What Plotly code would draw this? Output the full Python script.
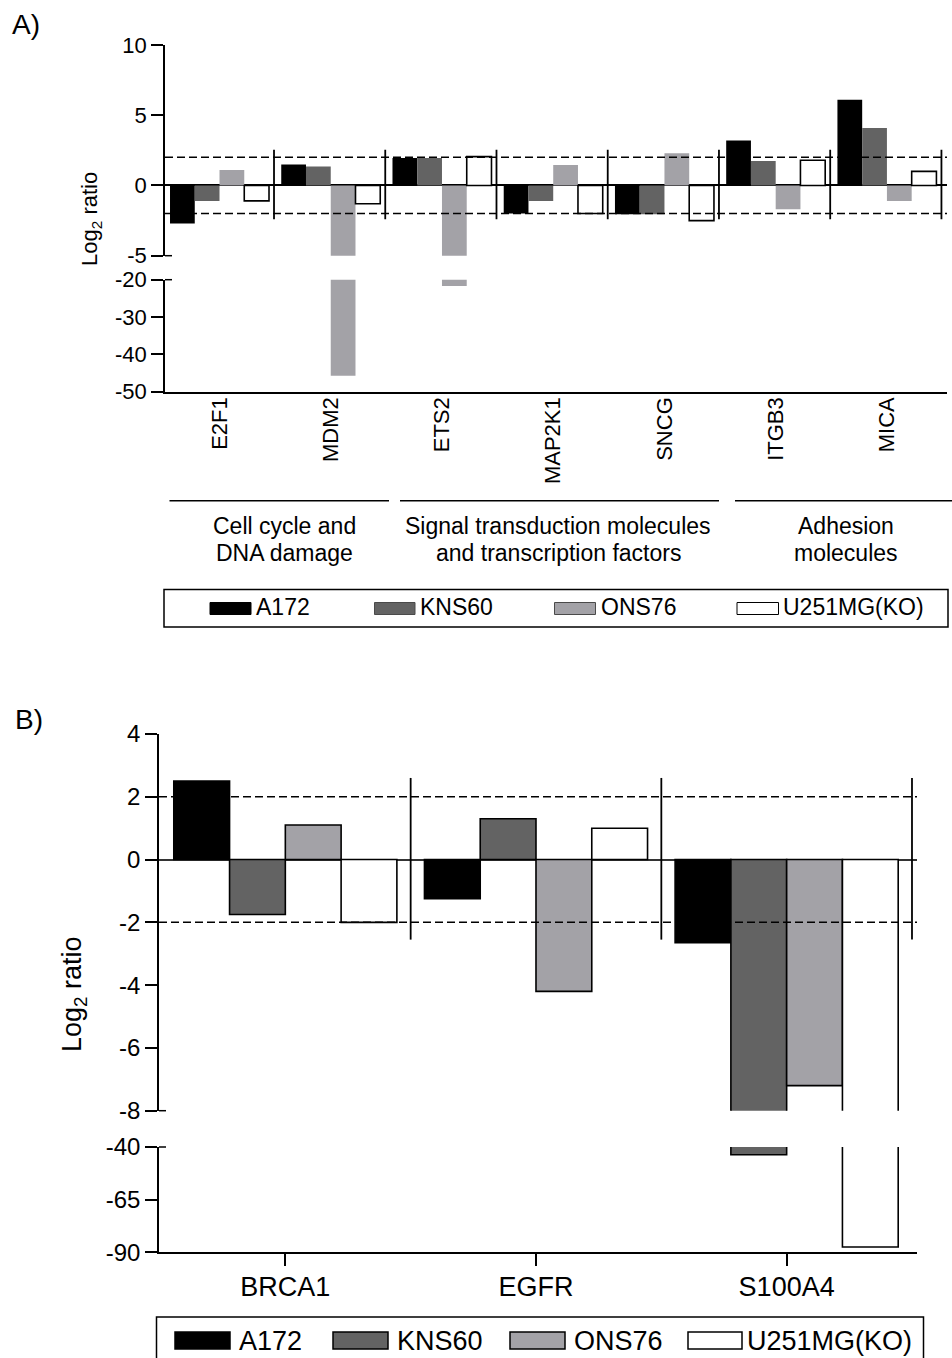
import plotly.graph_objects as go

W, H = 952, 1358
FONT = "Liberation Sans, Arial, sans-serif"

# Panel A: log2 ratios per gene (upper segment -5..10, lower segment -50..-20)
genes_a = ["E2F1", "MDM2", "ETS2", "MAP2K1", "SNCG", "ITGB3", "MICA"]
a172_a = [-2.7, 1.5, 1.95, -2.0, -2.05, 3.2, 6.1]
kns60_a = [-1.1, 1.35, 1.95, -1.1, -2.05, 1.75, 4.1]
ons76_a = [1.1, -45.7, -21.7, 1.45, 2.3, -1.7, -1.1]
u251_a = [-1.1, -1.3, 2.05, -2.0, -2.5, 1.8, 1.0]

# Panel B: log2 ratios per gene (upper segment -8..4, lower segment -90..-40)
genes_b = ["BRCA1", "EGFR", "S100A4"]
a172_b = [2.5, -1.25, -2.65]
kns60_b = [-1.75, 1.3, -43.7]
ons76_b = [1.1, -4.2, -7.2]
u251_b = [-2.0, 1.0, -87.5]

cell_lines = ["A172", "KNS60", "ONS76", "U251MG(KO)"]
fills = ["#000000", "#636363", "#a3a2a7", "#ffffff"]

gene_groups_a = [
    ("Cell cycle and", "DNA damage"),
    ("Signal transduction molecules", "and transcription factors"),
    ("Adhesion", "molecules"),
]

ticks_a_upper = [10, 5, 0, -5]
ticks_a_lower = [-20, -30, -40, -50]
ticks_b_upper = [4, 2, 0, -2, -4, -6, -8]
ticks_b_lower = [-40, -65, -90]


def px(x):
    return x / W


def py(y):
    return 1 - y / H


def labels(vals):
    # plain hyphen-minus for negative tick labels
    return [str(v) for v in vals]


series_a = [a172_a, kns60_a, ons76_a, u251_a]
series_b = [a172_b, kns60_b, ons76_b, u251_b]

fig = go.Figure()

# Panel A bars: same data on both axis segments (clipped to each range)
for yref in ["y", "y2"]:
    for name, vals, col in zip(cell_lines, series_a, fills):
        outlined = name == "U251MG(KO)"
        fig.add_trace(go.Bar(
            x=genes_a, y=vals, name=name, xaxis="x", yaxis=yref,
            marker=dict(color=col,
                        line=dict(color="#000000", width=1.6 if outlined else 0)),
            showlegend=False, hoverinfo="skip",
        ))

# Panel B bars, all outlined
for yref in ["y3", "y4"]:
    for name, vals, col in zip(cell_lines, series_b, fills):
        fig.add_trace(go.Bar(
            x=genes_b, y=vals, name=name, xaxis="x2", yaxis=yref,
            marker=dict(color=col, line=dict(color="#000000", width=1.6)),
            showlegend=False, hoverinfo="skip",
        ))

yax_common = dict(
    showline=True, linecolor="#000000", linewidth=1.5,
    ticks="outside", ticklen=12, tickwidth=1.5, tickcolor="#000000",
    showgrid=False, automargin=False, fixedrange=True,
)

fig.update_layout(
    width=W, height=H,
    margin=dict(l=0, r=0, t=0, b=0),
    paper_bgcolor="white", plot_bgcolor="white",
    barmode="group", bargap=0.11, bargroupgap=0,
    font=dict(family=FONT, color="#000000"),
    xaxis=dict(
        domain=[px(165), px(947)], anchor="y2",
        type="category", categoryorder="array", categoryarray=genes_a,
        range=[-0.49, 6.54],
        showline=True, linecolor="#000000", linewidth=1.5,
        ticks="", tickangle=-90, tickfont=dict(size=22),
        ticklabelstandoff=-5,
        showgrid=False, automargin=False, fixedrange=True,
    ),
    yaxis=dict(
        domain=[py(255.7), py(45)], anchor="x", range=[-5, 10],
        tickvals=ticks_a_upper, ticktext=labels(ticks_a_upper),
        tickfont=dict(size=22),
        zeroline=True, zerolinecolor="#000000", zerolinewidth=1.5,
        **yax_common,
    ),
    yaxis2=dict(
        domain=[py(391.7), py(279.7)], anchor="x", range=[-50, -20],
        tickvals=ticks_a_lower, ticktext=labels(ticks_a_lower),
        tickfont=dict(size=22), zeroline=False,
        **yax_common,
    ),
    xaxis2=dict(
        domain=[px(159), px(917)], anchor="y4",
        type="category", categoryorder="array", categoryarray=genes_b,
        range=[-0.504, 2.52],
        showline=True, linecolor="#000000", linewidth=1.5,
        ticks="outside", ticklen=12, tickwidth=1.5, tickcolor="#000000",
        tickfont=dict(size=27), ticklabelstandoff=-2,
        showgrid=False, automargin=False, fixedrange=True,
    ),
    yaxis3=dict(
        domain=[py(1110.7), py(734)], anchor="x2", range=[-8, 4],
        tickvals=ticks_b_upper, ticktext=labels(ticks_b_upper),
        tickfont=dict(size=24),
        zeroline=True, zerolinecolor="#333333", zerolinewidth=1.5,
        **yax_common,
    ),
    yaxis4=dict(
        domain=[py(1252.3), py(1147)], anchor="x2", range=[-90, -40],
        tickvals=ticks_b_lower, ticktext=labels(ticks_b_lower),
        tickfont=dict(size=24), zeroline=False,
        **yax_common,
    ),
)

shapes = []
dash = "8px,4px"

# Threshold lines at +/-2 and gene separators
for y in (2, -2):
    shapes.append(dict(type="line", xref="x domain", yref="y", x0=0, x1=1,
                       y0=y, y1=y, line=dict(color="#000000", width=1.5, dash=dash)))
    shapes.append(dict(type="line", xref="x2 domain", yref="y3", x0=0, x1=1,
                       y0=y, y1=y, line=dict(color="#000000", width=1.5, dash=dash)))
for i in range(len(genes_a)):
    shapes.append(dict(type="line", xref="x", yref="y", x0=i + 0.49, x1=i + 0.49,
                       y0=-2.4, y1=2.55, line=dict(color="#000000", width=1.8)))
for i in range(len(genes_b)):
    shapes.append(dict(type="line", xref="x2", yref="y3", x0=i + 0.5, x1=i + 0.5,
                       y0=-2.55, y1=2.6, line=dict(color="#000000", width=1.8)))


def pline(x0, y0, x1, y1, w=1.5):
    return dict(type="line", xref="paper", yref="paper",
                x0=px(x0), x1=px(x1), y0=py(y0), y1=py(y1),
                line=dict(color="#000000", width=w))


# Axis-break stubs
for yy in (255.7, 279.7):
    shapes.append(pline(165, yy, 172, yy))
for yy in (1110.7, 1147):
    shapes.append(pline(159, yy, 166, yy))

# Gene-group brackets under panel A
for x0, x1 in [(169.5, 389), (400, 719), (735, 952)]:
    shapes.append(pline(x0, 500.7, x1, 500.7))

# Legend frames
shapes.append(dict(type="rect", xref="paper", yref="paper",
                   x0=px(164), x1=px(948), y0=py(627), y1=py(589.5),
                   line=dict(color="#000000", width=1.5), fillcolor="rgba(0,0,0,0)"))
shapes.append(dict(type="rect", xref="paper", yref="paper",
                   x0=px(156.5), x1=px(923.5), y0=py(1370), y1=py(1317),
                   line=dict(color="#000000", width=1.5), fillcolor="rgba(0,0,0,0)"))

annotations = []


def text(x, y, s, size, xanchor="center", yanchor="middle", angle=0):
    annotations.append(dict(
        xref="paper", yref="paper", x=px(x), y=py(y), text=s, showarrow=False,
        xanchor=xanchor, yanchor=yanchor, textangle=angle,
        font=dict(family=FONT, size=size, color="#000000"),
    ))


# Legend A
legend_a_swatch = [(210, 251), (374.5, 415), (554.5, 595.5), (737, 778.5)]
legend_a_text = [254, 418, 598.5, 780.5]
for (sx0, sx1), tx, name, col in zip(legend_a_swatch, legend_a_text, cell_lines, fills):
    edge = "#000000" if name == "U251MG(KO)" else ("#4a4a4a" if name != "A172" else col)
    shapes.append(dict(type="rect", xref="paper", yref="paper",
                       x0=px(sx0), x1=px(sx1), y0=py(614.5), y1=py(602.5),
                       fillcolor=col, line=dict(color=edge, width=1)))
    text(tx, 607, name, 23, xanchor="left")

# Legend B
legend_b_swatch = [(175, 230), (333, 388), (510, 565), (688, 742)]
legend_b_text = [237, 395, 572, 745]
for (sx0, sx1), tx, name, col in zip(legend_b_swatch, legend_b_text, cell_lines, fills):
    shapes.append(dict(type="rect", xref="paper", yref="paper",
                       x0=px(sx0), x1=px(sx1), y0=py(1349), y1=py(1332),
                       fillcolor=col, line=dict(color="#000000", width=1.5)))
    text(tx, 1340.5, name, 27, xanchor="left")

# Gene-group captions
for cx, (l1, l2) in zip([284, 558, 846], gene_groups_a):
    text(cx, 526.5, l1, 23)
    text(cx, 552.5, l2, 23)

# Panel letters and axis titles
text(10, 24, "A)", 28, xanchor="left")
text(13, 719, "B)", 28, xanchor="left")
text(91, 219, "Log<sub>2</sub> ratio", 22, angle=-90)
text(74, 994, "Log<sub>2</sub> ratio", 27, angle=-90)

fig.update_layout(shapes=shapes, annotations=annotations)

fig.write_html("out.html")
